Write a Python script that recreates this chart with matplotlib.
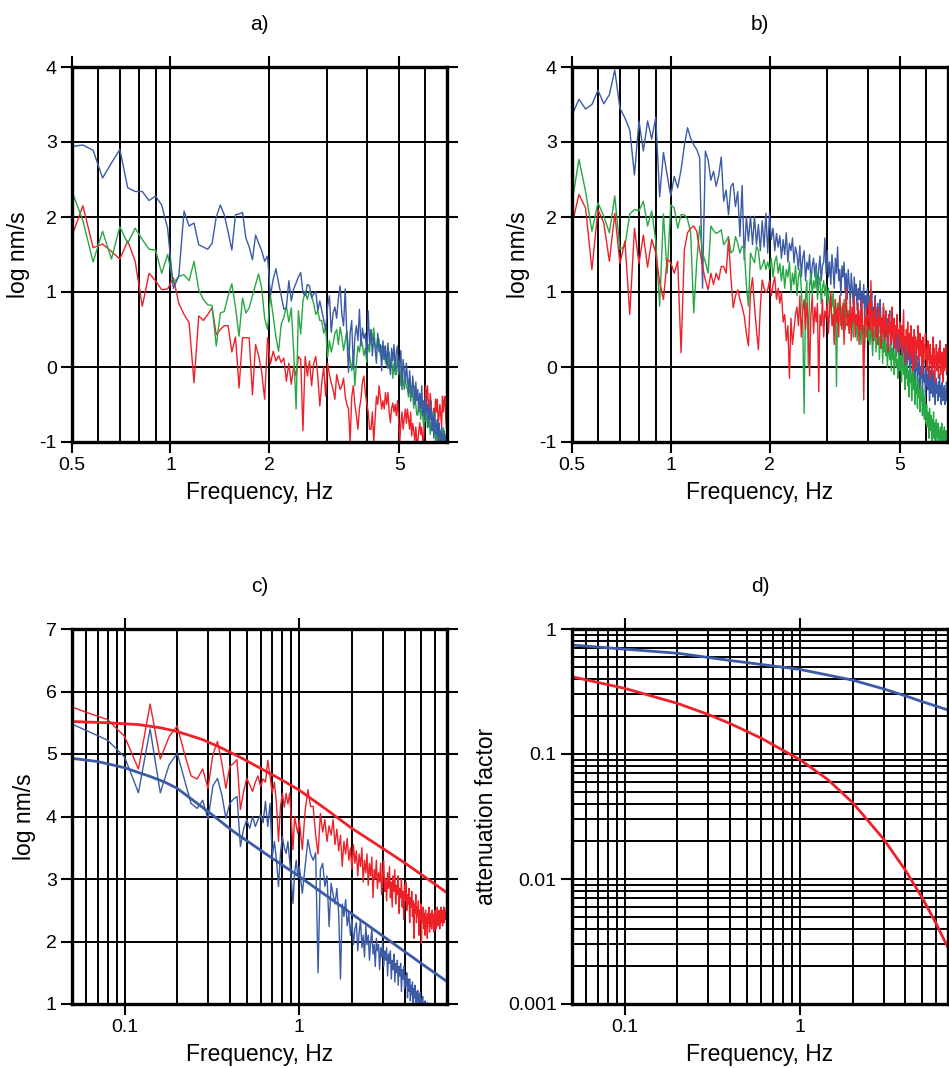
import numpy as np
import matplotlib
matplotlib.use("Agg")
import matplotlib.pyplot as plt
from matplotlib.ticker import NullFormatter, FixedLocator

plt.rcParams['font.family'] = ['Liberation Sans', 'DejaVu Sans']
plt.rcParams['axes.unicode_minus'] = False
plt.rcParams['font.size'] = 14

# ---------------- DATA ----------------
# panel a: spectra sampled every 0.04 Hz from 0.5 Hz
a_start, a_step = 0.5, 0.04
a_blue = [2.94, 2.96, 2.89, 2.52, 2.72, 2.90, 2.39, 2.34, 2.34, 2.22,
          2.28, 2.16, 1.85, 1.05, 1.21, 2.08, 1.88, 1.92, 1.63, 1.60,
          1.57, 1.65, 2.00, 2.16, 2.03, 1.80, 1.56, 2.03, 2.04, 2.06,
          1.72, 1.60, 1.43, 1.76, 1.65, 1.55, 1.41, 1.48, 0.95, 1.17,
          1.31, 1.12, 0.95, 0.77, 0.79, 1.15, 0.88, 1.04, 1.12, 1.20,
          1.26, 0.99, 0.95, 1.10, 1.08, 0.92, 0.98, 1.00, 0.75, 0.88,
          0.75, 0.62, 0.50, 0.80, 0.95, 0.46, 0.72, 0.80, 0.65, 0.92,
          1.08, 0.70, 0.55, 1.04, 0.40, -0.07, 0.45, 0.62, -0.03, 0.40,
          0.55, 0.35, 0.77, 0.28, 0.52, 0.38, 0.45, 0.12, 0.75, 0.30,
          0.50, 0.15, 0.40, 0.25, 0.05, 0.45, 0.20, 0.30, -0.05, 0.35,
          0.10, 0.28, 0.00, 0.32, 0.05, -0.10, 0.25, 0.08, 0.30, -0.05,
          0.20, 0.28, -0.10, 0.05, 0.22, -0.30, 0.10, -0.05, -0.20, 0.05,
          -0.15, -0.35, -0.05, -0.25, -0.40, -0.12, -0.30, -0.50, -0.20, -0.45,
          -0.30, -0.60, -0.35, -0.55, -0.25, -0.65, -0.45, -0.70, -0.40, -0.60,
          -0.50, -0.80, -0.55, -0.70, -0.45, -0.85, -0.65, -0.95, -0.60, -0.80,
          -0.90, -0.70, -1.05, -0.75, -0.90, -1.10, -0.80, -0.95, -1.10, -0.85,
          -1.00, -1.15, -0.95]
a_green = [2.34, 1.95, 1.40, 1.81, 1.44, 1.87, 1.65, 1.85, 1.70, 1.57,
           1.56, 1.25, 1.50, 1.12, 1.21, 1.23, 1.15, 1.41, 1.03, 0.90,
           0.83, 0.82, 0.28, 0.72, 0.74, 0.95, 1.11, 0.80, 0.41, 0.92,
           0.72, 0.79, 0.95, 1.10, 1.24, 1.05, 0.65, 0.50, 0.95, 0.68,
           0.40, 0.21, 0.57, 0.66, 0.81, 0.60, 0.79, 0.20, -0.56, 0.75,
           0.44, 0.88, 1.01, 0.90, 1.01, 0.95, 0.84, 0.70, 0.75, 0.62,
           0.62, 0.45, 0.53, 0.13, 0.35, 0.20, 0.31, 0.45, 0.50, 0.30,
           0.53, 0.40, 0.22, 0.35, 0.48, 0.25, 0.10, -0.05, 0.15, -0.25,
           0.05, 0.28, 0.20, 0.37, 0.30, 0.15, 0.25, 0.06, 0.30, 0.20,
           0.50, 0.35, 0.52, 0.30, 0.24, 0.40, 0.37, 0.15, 0.28, 0.10,
           0.28, 0.05, 0.15, -0.02, 0.20, 0.00, 0.11, -0.15, 0.05, -0.10,
           -0.10, 0.12, -0.05, 0.08, -0.25, 0.00, -0.19, -0.30, -0.10, -0.28,
           -0.28, -0.40, -0.15, -0.46, -0.30, -0.37, -0.55, -0.25, -0.50, -0.64,
           -0.64, -0.45, -0.55, -0.70, -0.50, -0.64, -0.80, -0.60, -0.72, -0.55,
           -0.81, -0.65, -0.72, -0.90, -0.70, -0.85, -0.60, -0.90, -0.75, -1.00,
           -0.85, -1.05, -0.80, -0.95, -1.10, -0.85, -0.90, -1.10, -0.81, -0.95,
           -1.10, -0.90, -1.05]
a_red = [1.75, 2.15, 1.59, 1.64, 1.54, 1.44, 1.68, 1.41, 0.81, 1.25,
         1.15, 1.03, 1.04, 1.19, 0.85, 0.70, 0.59, -0.21, 0.68, 0.62,
         0.70, 0.79, 0.43, 0.50, 0.55, 0.55, 0.20, 0.40, -0.28, 0.39,
         0.39, 0.39, -0.37, 0.30, 0.15, -0.07, -0.43, 0.39, 0.04, 0.21,
         0.08, 0.15, 0.06, 0.12, -0.19, 0.05, -0.23, 0.01, -0.12, 0.14,
         0.10, -0.85, 0.14, -0.12, 0.08, -0.25, 0.05, 0.14, -0.12, -0.52,
         -0.21, 0.00, -0.39, 0.05, -0.10, -0.21, -0.30, -0.43, -0.10, -0.21,
         -0.30, -0.25, -0.15, -0.39, -0.50, -0.56, -1.00, -0.40, -0.25, -0.50,
         -0.65, -0.83, -0.55, -0.43, -0.20, -0.12, -0.35, -0.48, -0.60, -0.83,
         -0.83, -0.60, -1.00, -0.70, -0.39, -0.50, -0.25, -0.40, -0.56, -0.45,
         -0.56, -0.34, -0.50, -0.34, -0.60, -0.74, -0.55, -0.48, -0.60, -0.50,
         -0.65, -0.45, -0.70, -1.00, -0.75, -0.60, -0.83, -0.70, -0.56, -0.75,
         -0.56, -0.70, -0.83, -0.60, -0.92, -0.75, -0.85, -1.00, -0.80, -1.00,
         -1.00, -0.85, -0.74, -0.90, -0.80, -1.00, -0.95, -0.60, -0.25, -0.50,
         -0.25, -0.48, -0.60, -0.35, -0.48, -0.70, -0.83, -0.55, -0.65, -0.43,
         -0.60, -0.43, -0.75, -0.65, -0.50, -0.65, -0.80, -0.39, -0.60, -0.45,
         -0.39, -0.70, -0.83]

# panel b: spectra sampled every 0.025 Hz from 0.5 Hz
b_start, b_step = 0.5, 0.025
b_blue = [3.36, 3.57, 3.44, 3.50, 3.69, 3.51, 3.63, 3.96, 3.45, 3.32,
          3.16, 2.56, 3.28, 2.88, 3.28, 3.04, 3.33, 2.27, 2.86, 2.56,
          2.28, 2.54, 2.39, 2.63, 2.95, 3.19, 3.05, 2.96, 2.90, 2.79,
          1.05, 2.88, 2.76, 2.49, 2.61, 2.41, 2.55, 2.80, 2.21, 2.36,
          2.03, 2.41, 2.45, 2.14, 2.34, 1.74, 2.42, 1.43, 2.01, 1.68,
          2.01, 1.63, 2.01, 1.63, 1.90, 1.55, 1.95, 1.60, 2.05, 1.52,
          2.05, 1.70, 1.85, 1.55, 1.78, 1.60, 1.75, 1.45, 1.70, 1.50,
          1.79, 1.40, 1.65, 1.55, 1.72, 1.39, 1.60, 1.50, 1.30, 1.62,
          1.20, 1.45, 1.55, 1.15, 1.40, 1.30, 1.50, 1.10, 1.35, 1.45,
          1.20, 1.38, 1.05, 1.30, 1.48, 1.15, 1.35, 1.40, 1.72, 1.25,
          1.55, 1.20, 1.40, 1.10, 1.50, 1.30, 1.05, 1.45, 1.25, 1.60,
          1.15, 1.30, 0.95, 1.35, 1.20, 1.40, 1.00, 1.25, 0.90, 1.30,
          1.10, 0.85, 1.25, 1.05, 0.80, 1.20, 0.95, 1.10, 0.75, 1.05,
          0.90, 1.15, 0.70, 1.00, 0.85, 1.10, 0.65, 0.95, 0.80, 1.05,
          0.75,
          0.95, 0.60, 0.85, 1.00, 0.55, 0.80, 0.70, 0.95, 0.50, 0.75,
          0.85, 0.45, 0.70, 0.90, 0.55, 0.65, 0.40, 0.80, 0.60, 0.35,
          0.70, 0.55, 0.30, 0.65, 0.45, 0.75, 0.25, 0.55, 0.40, 0.60,
          0.20, 0.50, 0.35, 0.55, 0.15, 0.45, 0.30, 0.50, 0.10, 0.40,
          0.25, 0.45, 0.05, 0.30, 0.20, 0.40, 0.00, 0.35, 0.15, -0.05,
          0.30, 0.10, 0.25, -0.10, 0.20, 0.05, 0.30, -0.15, 0.15, 0.00,
          0.20, -0.20, 0.10, -0.05, 0.15, -0.25, 0.05, -0.10, 0.10, -0.30,
          0.00, -0.15, 0.05, -0.35, -0.05, 0.10, -0.20, -0.10, -0.40, 0.00,
          -0.25, -0.10, -0.30, 0.00, -0.20, -0.45, -0.15, -0.05, -0.35, -0.20,
          -0.10, -0.40, -0.25, -0.05, -0.30, -0.50, -0.20, -0.15, -0.35, -0.25,
          -0.45, -0.20, -0.30, -0.10, -0.40, -0.25, -0.50, -0.30, -0.20, -0.45,
          -0.30, -0.35, -0.25, -0.50, -0.30, -0.40, -0.20, -0.45, -0.35, -0.30]
b_green = [2.19, 2.77, 2.34, 1.81, 2.19, 2.01, 1.79, 2.28, 1.57, 1.61,
           2.04, 2.10, 2.08, 2.21, 1.88, 2.08, 1.68, 0.81, 2.04, 1.25,
           2.16, 2.12, 1.85, 2.03, 2.03, 1.97, 1.79, 0.72, 1.40, 1.88,
           1.52, 1.40, 1.25, 1.88, 1.82, 1.78, 1.80, 1.83, 1.63, 1.68,
           1.74, 1.52, 1.55, 1.74, 1.65, 1.52, 1.61, 1.58, 1.10, 0.81,
           1.52, 1.45, 1.39, 1.61, 1.55, 1.30, 1.35, 1.43, 1.30, 1.40,
           1.30, 1.45, 1.20, 1.40, 1.48, 1.25, 1.38, 1.15, 1.35, 1.05,
           1.30, 1.20, 1.40, 1.00, 1.25, 1.10, 1.35, 0.95, 1.20, 1.30,
           1.05, 0.60, -0.62, 0.90, 1.15, 0.00, 1.10, 1.25, 0.95, 1.15,
           1.05, 1.30, 0.90, 1.10, 1.20, 0.85, 1.05, 1.15, 0.95, 1.10,
           0.85, 1.05, 0.70, 0.95, 0.80, 1.00, 0.60, 0.90, -0.26, 0.85,
           0.75, 0.95, 0.55, 0.80, 0.70, 0.90, 0.50, 0.85, 0.65, 0.75,
           0.45, 0.80, 0.60, 0.70, 0.40, 0.75, 0.55, 0.65, 0.35, 0.70,
           0.50, 0.60, 0.30, 0.65, 0.45, 0.55, 0.25, 0.60, 0.40, 0.50,
           0.35,
           0.55, 0.30, 0.60, 0.40, 0.15, 0.50, 0.35, 0.55, 0.20, 0.45,
           0.30, 0.50, 0.10, 0.40, 0.25, 0.45, 0.05, 0.35, 0.20, 0.40,
           0.15, 0.30, 0.00, 0.35, 0.20, 0.10, 0.30, -0.05, 0.25, 0.10,
           0.20, -0.10, 0.15, 0.25, 0.00, 0.10, -0.15, 0.20, 0.05, -0.05,
           0.15, -0.20, 0.05, 0.20, -0.10, 0.00, -0.30, 0.10, -0.15, 0.05,
           -0.25, -0.05, -0.40, 0.00, -0.20, -0.10, -0.45, -0.15, 0.05, -0.30,
           -0.20, -0.50, -0.10, -0.35, -0.25, -0.55, -0.15, -0.40, -0.30, -0.60,
           -0.25, -0.45, -0.35, -0.65, -0.30, -0.50, -0.70, -0.40, -0.55, -0.75,
           -0.50, -0.80, -0.60, -0.70, -0.95, -0.55, -0.75, -0.85, -0.65, -1.00,
           -0.70, -0.85, -0.60, -0.95, -0.75, -1.05, -0.80, -0.70, -0.90, -1.00,
           -0.75, -0.95, -0.85, -1.10, -0.80, -0.90, -1.00, -0.75, -0.95, -1.05,
           -0.85, -1.00, -0.80, -0.95, -1.10, -0.85, -0.95, -1.00, -0.90, -0.80]
b_red = [1.90, 2.30, 2.12, 1.30, 2.10, 1.92, 1.41, 2.05, 1.38, 1.68,
         0.70, 1.85, 1.38, 1.76, 1.33, 1.70, 1.52, 1.13, 0.90, 1.44,
         1.39, 1.25, 1.41, 0.19, 1.56, 1.79, 1.85, 1.88, 1.81, 1.56,
         1.34, 1.16, 1.03, 1.25, 1.10, 1.25, 1.16, 1.34, 1.34, 1.25,
         1.70, 1.20, 0.79, 0.95, 1.03, 0.90, 0.80, 0.68, 0.45, 0.28,
         1.00, 1.19, 0.81, 0.50, 0.23, 0.80, 1.16, 1.05, 0.99, 1.03,
         1.15, 0.95, 1.10, 1.20, 0.90, 1.05, 0.85, 1.00, 0.60, 0.70,
         0.35, 0.55, -0.15, 0.65, 0.30, 0.50, 0.70, 0.80, 0.55, 0.95,
         0.40, 0.75, 0.90, 0.50, 0.85, 0.60, -0.12, 0.70, 0.95, 0.45,
         0.80, 0.60, 0.85, -0.33, 0.70, 0.55, 0.90, 0.40, 0.75, 0.65,
         0.85, 0.45, 0.75, 1.00, 0.55, 0.70, 0.30, 0.90, 0.60, 0.80,
         0.40, 0.95, 0.65, 0.50, 0.85, 0.30, 0.75, 1.05, 0.55, 0.70,
         0.45, 0.90, 0.35, 0.80, 0.60, 0.95, 0.40, 0.70, 0.55, 0.85,
         0.30, 0.75, 0.50, 0.90, 0.45, -0.44, 0.65, 0.55, 0.80, 0.40,
         0.70,
         0.85, 0.50, 1.15, 0.60, 0.35, 0.75, 0.55, 0.90, 0.40, 0.65,
         0.30, 0.80, 0.55, 0.70, 0.25, 0.65, 0.45, 0.85, 0.35, 0.60,
         0.75, 0.40, 0.55, 0.20, 0.70, 0.45, 0.60, 0.30, 0.80, 0.50,
         0.35, 0.65, 0.25, 0.55, 0.45, 0.70, 0.20, 0.50, 0.40, 0.60,
         0.30, 0.55, 0.15, 0.45, 0.76, 0.25, 0.40, 0.05, 0.50, 0.30,
         0.60, 0.20, 0.45, 0.10, 0.35, 0.55, 0.15, 0.40, -0.05, 0.30,
         0.50, 0.20, 0.40, 0.00, 0.35, 0.25, 0.55, 0.10, 0.30, 0.45,
         0.15, 0.35, -0.10, 0.25, 0.40, 0.05, 0.30, 0.20, 0.45, 0.10,
         0.25, -0.05, 0.35, 0.10, 0.20, -0.15, 0.30, 0.05, 0.15, -0.10,
         0.20, 0.40, 0.00, 0.25, -0.20, 0.15, 0.05, 0.30, -0.05, 0.20,
         0.10, -0.15, 0.25, 0.05, 0.35, -0.10, 0.15, 0.00, 0.20, -0.20,
         0.10, 0.25, -0.05, 0.15, 0.00, 0.30, -0.10, 0.05, 0.20, -0.45]

# panel c: two spectra; 0.02 Hz steps below 1 Hz, 0.04 Hz steps above
c_low_start, c_low_step = 0.04, 0.02
c_high_start, c_high_step = 1.04, 0.04
c_red_low = [5.85, 5.67, 5.55, 5.28, 4.76, 5.80, 4.92, 5.28, 5.45, 5.01,
             4.65, 4.60, 4.76, 4.45, 4.99, 5.20, 4.86, 4.45, 4.80, 4.85,
             4.91, 4.11, 4.40, 4.61, 4.51, 4.40, 4.55, 4.65, 4.48, 4.60,
             4.55, 4.90, 4.65, 4.37, 4.55, 4.20, 3.60, 4.16, 4.37, 4.15,
             4.37, 4.20, 4.37, 3.94, 3.47, 4.00, 3.85, 3.73, 3.94]
c_red_high = [3.47, 4.10, 4.43, 4.16, 4.16, 3.70, 3.40, 4.05, 3.75, 3.95,
              3.60, 3.85, 3.70, 3.95, 3.55, 3.80, 3.45, 3.70, 3.20, 3.60,
              3.40, 3.65, 3.30, 3.50, 3.15, 3.55, 3.25, 3.45, 3.05, 3.40,
              3.20, 3.50, 2.95, 3.30, 3.10, 3.40, 2.90, 3.25, 3.05, 3.35,
              2.70, 3.15, 3.00, 3.30, 2.85, 3.10, 2.95, 3.25, 2.75, 3.05,
              3.30, 2.80, 3.00, 2.65, 3.10, 2.85, 3.20, 2.70, 2.95, 2.55,
              3.05, 2.80, 3.15, 2.60, 2.90, 2.75, 3.05, 2.45, 2.85, 2.70,
              3.00, 2.55, 2.80, 2.35, 2.90, 2.65, 2.95, 2.50, 2.75, 2.60,
              2.85, 2.30, 2.70, 2.55, 2.80, 2.40, 2.65, 2.05, 2.60, 2.45,
              2.75, 2.30, 2.55, 2.40, 2.65, 2.10, 2.50, 2.35, 2.60, 1.97,
              2.45, 2.30, 2.55, 2.20, 2.45, 2.10, 2.50, 2.25, 2.40, 2.05,
              2.45, 2.30, 2.55, 2.15, 2.40, 2.25, 2.45, 2.20, 2.50, 2.30,
              2.40, 2.15, 2.45, 2.30, 2.50, 2.20, 2.40, 2.30, 2.55, 2.25,
              2.45, 2.35, 2.50, 2.20, 2.40, 2.30, 2.55, 2.35, 2.45, 2.25,
              2.50, 2.40, 2.55, 2.30, 2.45, 2.35, 2.50, 2.40, 2.55, 2.45]
c_blue_low = [5.60, 5.38, 5.22, 4.95, 4.38, 5.40, 4.38, 4.83, 5.01, 4.59,
              4.21, 4.13, 4.26, 3.95, 4.49, 4.61, 4.35, 3.97, 4.21, 4.28,
              4.32, 3.52, 3.80, 3.95, 3.81, 4.00, 3.84, 3.95, 4.03, 3.90,
              4.24, 3.84, 4.21, 3.36, 3.60, 3.30, 2.88, 3.41, 3.68, 3.50,
              3.41, 3.60, 3.30, 3.00, 2.61, 3.10, 3.30, 3.04, 3.20]
c_blue_high = [2.77, 3.20, 3.63, 3.40, 3.30, 3.42, 1.50, 3.15, 3.25, 2.88,
               3.05, 2.24, 2.93, 2.75, 2.60, 2.85, 2.45, 1.40, 2.60, 2.40,
               2.67, 2.25, 2.45, 2.10, 2.35, 1.95, 2.20, 2.30, 1.85, 2.15,
               2.35, 1.90, 2.10, 1.75, 2.25, 1.95, 2.10, 1.70, 2.00, 2.20,
               1.80, 1.95, 1.60, 2.05, 1.85, 1.95, 1.55, 1.90, 1.75, 2.00,
               1.60, 1.85, 1.70, 1.90, 1.45, 1.80, 1.65, 1.85, 1.40, 1.70,
               1.55, 1.80, 1.35, 1.65, 1.50, 1.70, 1.30, 1.60, 1.45, 1.65,
               1.20, 1.55, 1.40, 1.60, 1.25, 1.45, 1.30, 1.50, 1.10, 1.40,
               1.20, 1.40, 1.05, 1.30, 1.15, 1.35, 0.98, 1.25, 1.10, 1.30,
               0.92, 1.20, 1.05, 1.22, 0.88, 1.15, 1.00, 1.18, 0.85, 1.08,
               0.95, 1.12, 0.80, 1.02, 0.88, 1.05, 0.75, 0.98, 0.85, 1.02,
               0.70, 0.90, 0.80, 0.95, 0.65, 0.85, 0.75, 0.92, 0.65, 0.85,
               0.70, 0.90, 0.60, 0.80, 0.65, 0.85, 0.55, 0.75, 0.60, 0.80,
               0.50, 0.70, 0.55, 0.75, 0.45, 0.65, 0.50, 0.70, 0.40, 0.60,
               0.45, 0.65, 0.35, 0.55, 0.40, 0.60, 0.30, 0.50, 0.35, 0.55]
# panel c: smooth model curves
c_model_red_f = [0.05, 0.08, 0.12, 0.16, 0.2, 0.28, 0.35, 0.45, 0.6, 0.8,
                 1.0, 1.4, 2.0, 3.0, 4.0, 5.0, 7.0]
c_model_red = [5.52, 5.50, 5.47, 5.42, 5.36, 5.23, 5.11, 4.96, 4.77, 4.58,
               4.42, 4.13, 3.81, 3.49, 3.26, 3.07, 2.78]
c_model_blue_f = [0.05, 0.07, 0.1, 0.14, 0.17, 0.2, 0.3, 0.42, 0.66, 1.0,
                  1.45, 2.0, 3.0, 4.0, 5.4, 7.0]
c_model_blue = [4.93, 4.88, 4.78, 4.64, 4.55, 4.45, 4.08, 3.76, 3.38, 3.04,
                2.72, 2.44, 2.09, 1.84, 1.58, 1.36]

# panel d: attenuation factors
d_blue_f = [0.05, 0.1, 0.2, 0.4, 1.0, 2.0, 3.0, 4.0, 5.0, 7.0]
d_blue = [0.744, 0.69, 0.64, 0.56, 0.475, 0.39, 0.332, 0.292, 0.262, 0.225]
d_red_f = [0.05, 0.1, 0.2, 0.3, 0.4, 0.6, 1.0, 1.44, 2.0, 3.0, 4.0, 5.0, 6.0, 7.0]
d_red = [0.415, 0.335, 0.254, 0.207, 0.175, 0.134, 0.090, 0.0626, 0.0408,
         0.0209, 0.01175, 0.00703, 0.00438, 0.00282]

BLUE = '#3b5ba6'
RED = '#ee2129'
GREEN = '#27a844'

def freqs(start, step, vals):
    return start + step * np.arange(len(vals))

# ---------------- FIGURE ----------------
fig = plt.figure(figsize=(9.49, 10.68), dpi=100)
W, H = 949.0, 1068.0
def rect(l, r, t, b):
    return [l / W, 1 - b / H, (r - l) / W, (b - t) / H]

ax_a = fig.add_axes(rect(72, 447, 67, 442))
ax_b = fig.add_axes(rect(572, 948, 67, 442))
ax_c = fig.add_axes(rect(72, 447, 629, 1004))
ax_d = fig.add_axes(rect(572, 948, 629, 1004))

def style(ax, title, ylabel):
    for s in ax.spines.values():
        s.set_linewidth(2.4)
        s.set_color('black')
    ax.grid(True, which='both', color='black', linewidth=1.4)
    ax.set_axisbelow(True)
    ax.tick_params(which='major', direction='out', length=8, width=1.5,
                   top=True, right=True, labeltop=False, labelright=False,
                   labelsize=14, pad=3, color='black')
    ax.tick_params(which='minor', length=0)
    ax.xaxis.set_minor_formatter(NullFormatter())
    ax.set_title(title, fontsize=15, pad=27)
    ax.set_xlabel('Frequency, Hz', fontsize=16.5, labelpad=5)
    ax.set_ylabel(ylabel, fontsize=16.5, labelpad=7)

def top_axes(ax):
    ax.set_xscale('log')
    ax.set_xlim(0.5, 7.0)
    ax.set_ylim(-1, 4)
    ax.xaxis.set_major_locator(FixedLocator([0.5, 1, 2, 5]))
    ax.set_xticklabels(['0.5', '1', '2', '5'])
    ax.xaxis.set_minor_locator(FixedLocator([0.6, 0.7, 0.8, 0.9, 3, 4, 6, 7]))
    ax.set_yticks([-1, 0, 1, 2, 3, 4])

def bottom_x(ax):
    ax.set_xscale('log')
    ax.set_xlim(0.05, 7.0)
    ax.xaxis.set_major_locator(FixedLocator([0.1, 1]))
    ax.set_xticklabels(['0.1', '1'])
    minors = [0.06, 0.07, 0.08, 0.09, 0.2, 0.3, 0.4, 0.5, 0.6, 0.7, 0.8, 0.9,
              2, 3, 4, 5, 6, 7]
    ax.xaxis.set_minor_locator(FixedLocator(minors))

LW = 1.0
# panel a
top_axes(ax_a)
ax_a.plot(freqs(a_start, a_step, a_red), a_red, color=RED, lw=LW)
ax_a.plot(freqs(a_start, a_step, a_green), a_green, color=GREEN, lw=LW)
ax_a.plot(freqs(a_start, a_step, a_blue), a_blue, color=BLUE, lw=LW)
style(ax_a, 'a)', 'log nm/s')

# panel b
top_axes(ax_b)
ax_b.plot(freqs(b_start, b_step, b_blue), b_blue, color=BLUE, lw=LW)
ax_b.plot(freqs(b_start, b_step, b_green), b_green, color=GREEN, lw=LW)
ax_b.plot(freqs(b_start, b_step, b_red), b_red, color=RED, lw=LW)
style(ax_b, 'b)', 'log nm/s')

# panel c
bottom_x(ax_c)
ax_c.set_ylim(1, 7)
ax_c.set_yticks([1, 2, 3, 4, 5, 6, 7])
f_red = np.concatenate([freqs(c_low_start, c_low_step, c_red_low),
                        freqs(c_high_start, c_high_step, c_red_high)])
f_blue = np.concatenate([freqs(c_low_start, c_low_step, c_blue_low),
                         freqs(c_high_start, c_high_step, c_blue_high)])
ax_c.plot(f_red, c_red_low + c_red_high, color=RED, lw=LW)
ax_c.plot(f_blue, c_blue_low + c_blue_high, color=BLUE, lw=LW)
ax_c.plot(c_model_red_f, c_model_red, color=RED, lw=2.0)
ax_c.plot(c_model_blue_f, c_model_blue, color=BLUE, lw=2.0)
style(ax_c, 'c)', 'log nm/s')

# panel d
bottom_x(ax_d)
ax_d.set_yscale('log')
ax_d.set_ylim(0.001, 1)
ax_d.yaxis.set_major_locator(FixedLocator([0.001, 0.01, 0.1, 1]))
ax_d.set_yticklabels(['0.001', '0.01', '0.1', '1'])
ymin = [m * d for d in (0.001, 0.01, 0.1) for m in range(2, 10)]
ax_d.yaxis.set_minor_locator(FixedLocator(ymin))
ax_d.yaxis.set_minor_formatter(NullFormatter())
ax_d.plot(d_blue_f, d_blue, color=BLUE, lw=2.0)
ax_d.plot(d_red_f, d_red, color=RED, lw=2.0)
style(ax_d, 'd)', 'attenuation factor')

fig.savefig('out.png', dpi=100)
